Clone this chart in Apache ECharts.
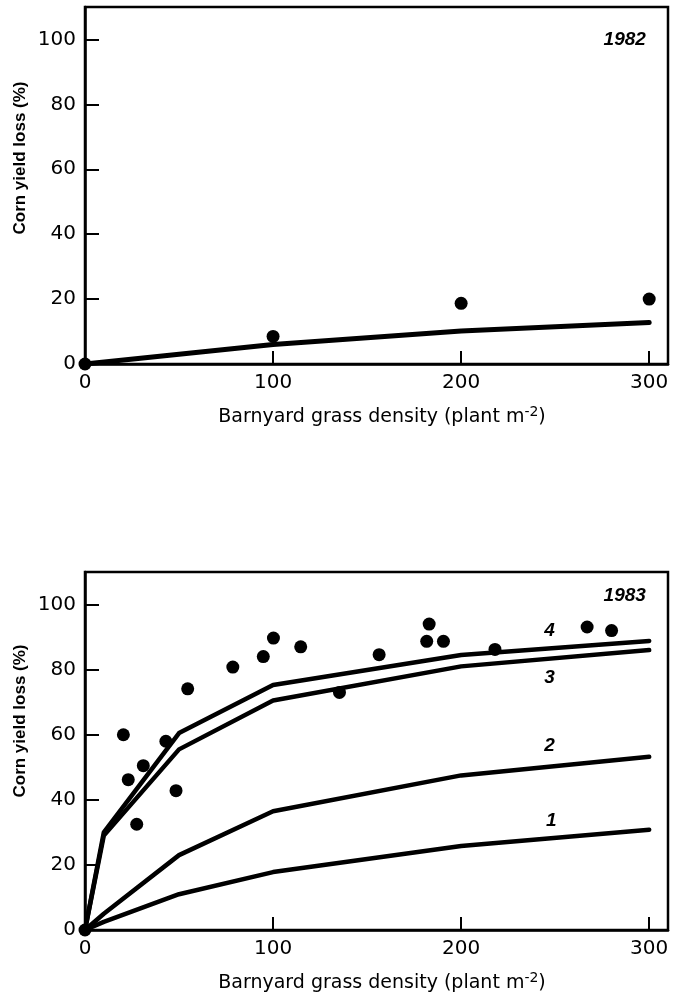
<!DOCTYPE html>
<html>
<head>
<meta charset="utf-8">
<script src="https://cdn.jsdelivr.net/npm/echarts@6/dist/echarts.min.js"></script>
<style>
  html, body { margin: 0; padding: 0; background: #fff; }
  #main { width: 675px; height: 1002px; }
</style>
</head>
<body>
<div id="main"></div>
<script>
// 1982: observed points and fitted curve
var obs1982 = [[0, 0], [100, 8.5], [200, 18.7], [300, 20]];
var fit1982 = [[0, 0], [100, 6], [200, 10.2], [300, 12.8]];

// 1983: observed points
var obs1983 = [
  [0, 0], [20.4, 60], [23, 46.2], [27.5, 32.5], [31, 50.5], [43, 58],
  [48.4, 42.8], [54.6, 74.1], [78.6, 80.8], [94.8, 84], [100.2, 89.7],
  [114.7, 87], [135.3, 73], [156.4, 84.6], [181.7, 88.7], [183, 94],
  [190.6, 88.7], [218, 86.2], [267, 93.1], [280, 92]
];
// 1983: fitted curves 1..4
var curve1 = [[0, 0], [10, 2.5], [50, 11], [100, 17.8], [200, 25.8], [300, 30.8]];
var curve2 = [[0, 0], [10, 5], [50, 23], [100, 36.5], [200, 47.5], [300, 53.2]];
var curve3 = [[0, 0], [10, 29], [50, 55.5], [100, 70.5], [200, 81], [300, 86]];
var curve4 = [[0, 0], [10, 30], [50, 60.5], [100, 75.3], [200, 84.5], [300, 88.8]];
var curveNames = ['1', '2', '3', '4'];
var years = ['1982', '1983'];

var ink = '#000';
var numFont = 'DejaVu Sans';

var main = echarts.init(document.getElementById('main'));

function xAx(gi) {
  return {
    gridIndex: gi, type: 'value', min: 0, max: 310, interval: 100,
    axisLine: { lineStyle: { color: ink, width: 2.5 } },
    axisTick: { inside: true, length: 13, lineStyle: { color: ink, width: 2 } },
    splitLine: { show: false },
    axisLabel: { color: ink, fontSize: 20, fontFamily: numFont, margin: 9, showMaxLabel: false }
  };
}
function yAx(gi) {
  return {
    gridIndex: gi, type: 'value', min: 0, max: 110, interval: 20,
    axisLine: { lineStyle: { color: ink, width: 2.5 } },
    axisTick: { inside: true, length: 14, lineStyle: { color: ink, width: 2 } },
    splitLine: { show: false },
    axisLabel: { color: ink, fontSize: 20, fontFamily: numFont, margin: 9, showMaxLabel: false }
  };
}
function fitLine(data, gi, w) {
  return {
    type: 'line', data: data, xAxisIndex: gi, yAxisIndex: gi,
    showSymbol: false, smooth: false,
    lineStyle: { color: ink, width: w, join: 'round', cap: 'round' },
    z: 2
  };
}
function dots(data, gi) {
  return {
    type: 'scatter', data: data, xAxisIndex: gi, yAxisIndex: gi,
    symbolSize: 13, itemStyle: { color: ink, opacity: 1 }, z: 3
  };
}
function textMarks(items, gi) {
  return {
    type: 'scatter', xAxisIndex: gi, yAxisIndex: gi, symbolSize: 0, silent: true,
    data: items,
    itemStyle: { opacity: 1, color: ink },
    label: {
      show: true, position: 'inside', formatter: '{b}', color: ink, opacity: 1,
      fontSize: 19, fontWeight: 'bold', fontStyle: 'italic', fontFamily: 'Liberation Sans'
    }
  };
}

var curveLabelAt = [[248, 33.5], [247, 56.5], [247, 77.4], [247, 91.8]];
var curveLabels = curveNames.map(function (n, i) {
  return { name: n, value: curveLabelAt[i] };
});
curveLabels.push({ name: years[1], value: [287, 102.6] });

var xName = 'Barnyard grass density (plant m{sup|-2})';
var nameStyle = {
  fill: ink, fontSize: 19, fontFamily: 'DejaVu Sans', fontWeight: 'normal',
  align: 'center', verticalAlign: 'middle',
  rich: { sup: { fontSize: 14, fontFamily: 'DejaVu Sans', verticalAlign: 'top', padding: [0, 0, 9, 0] } }
};
var yNameStyle = {
  fill: ink, fontSize: 17, fontFamily: 'Liberation Sans', fontWeight: 'bold',
  align: 'center', verticalAlign: 'middle'
};

option = {
  animation: false,
  backgroundColor: '#fff',
  grid: [
    { left: 85, right: 7, top: 7, height: 357, show: true, borderColor: ink, borderWidth: 2.5 },
    { left: 85, right: 7, top: 572, height: 358, show: true, borderColor: ink, borderWidth: 2.5 }
  ],
  xAxis: [xAx(0), xAx(1)],
  yAxis: [yAx(0), yAx(1)],
  graphic: [
    { type: 'text', x: 382, y: 417, style: Object.assign({ text: xName }, nameStyle) },
    { type: 'text', x: 382, y: 983, style: Object.assign({ text: xName }, nameStyle) },
    { type: 'text', x: 20, y: 158, rotation: Math.PI / 2, style: Object.assign({ text: 'Corn yield loss (%)' }, yNameStyle) },
    { type: 'text', x: 20, y: 721, rotation: Math.PI / 2, style: Object.assign({ text: 'Corn yield loss (%)' }, yNameStyle) }
  ],
  series: [
    fitLine(fit1982, 0, 5),
    dots(obs1982, 0),
    textMarks([{ name: years[0], value: [287, 100] }], 0),
    fitLine(curve1, 1, 4.5),
    fitLine(curve2, 1, 4.5),
    fitLine(curve3, 1, 4.5),
    fitLine(curve4, 1, 4.5),
    dots(obs1983, 1),
    textMarks(curveLabels, 1)
  ]
};
main.setOption(option);
</script>
</body>
</html>
